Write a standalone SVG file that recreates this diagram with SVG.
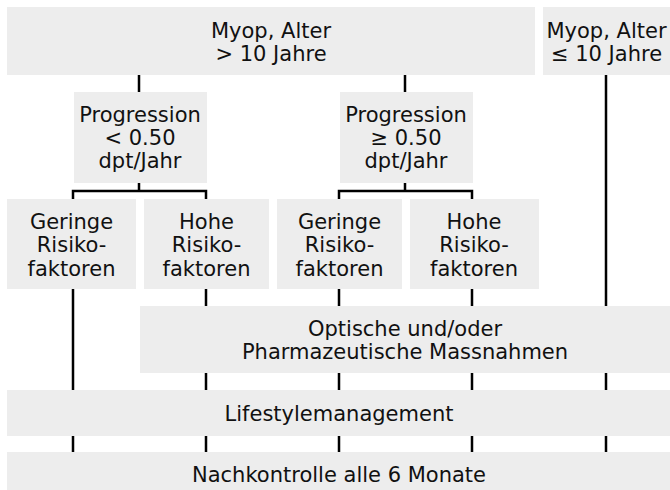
<svg xmlns="http://www.w3.org/2000/svg" width="670" height="490" viewBox="0 0 670 490">
<style>
.box{fill:#ededed}
text{font-family:"DejaVu Sans",Verdana,sans-serif;font-size:21px;fill:#111;text-anchor:middle}
.c{fill:none;stroke:#000;stroke-width:2.5}
</style>
<rect width="670" height="490" fill="#fff"/>
<g id="connectors" class="c">
<path d="M139 75V92M405 75V92M606 75V306"/>
<path d="M139 183V191M73 199V191H206V199"/>
<path d="M405 183V191M339 199V191H472V199"/>
<path d="M73 289V390M206 289V306M339 289V306M472 289V306"/>
<path d="M206 373V390M339 373V390M472 373V390M606 373V390"/>
<path d="M73 436V452M206 436V452M339 436V452M472 436V452M606 436V452"/>
</g>
<g id="n_myop_gt10"><rect class="box" x="7" y="7" width="528" height="68"/><text x="271" y="38">Myop, Alter</text><text x="271" y="61">&gt; 10 Jahre</text></g>
<g id="n_myop_le10"><rect class="box" x="543" y="7" width="127" height="68"/><text x="606.5" y="38">Myop, Alter</text><text x="606.5" y="61">≤ 10 Jahre</text></g>
<g id="n_prog_lt"><rect class="box" x="74" y="92" width="133" height="91"/><text x="140" y="122">Progression</text><text x="140" y="145">&lt; 0.50</text><text x="140" y="168">dpt/Jahr</text></g>
<g id="n_prog_ge"><rect class="box" x="340" y="92" width="133" height="91"/><text x="406" y="122">Progression</text><text x="406" y="145">≥ 0.50</text><text x="406" y="168">dpt/Jahr</text></g>
<g id="n_ger1"><rect class="box" x="7" y="199" width="129" height="90"/><text x="71.5" y="229">Geringe</text><text x="71.5" y="252">Risiko-</text><text x="71.5" y="276">faktoren</text></g>
<g id="n_hoh1"><rect class="box" x="144" y="199" width="125" height="90"/><text x="206.5" y="229">Hohe</text><text x="206.5" y="252">Risiko-</text><text x="206.5" y="276">faktoren</text></g>
<g id="n_ger2"><rect class="box" x="277" y="199" width="125" height="90"/><text x="339.5" y="229">Geringe</text><text x="339.5" y="252">Risiko-</text><text x="339.5" y="276">faktoren</text></g>
<g id="n_hoh2"><rect class="box" x="410" y="199" width="129" height="90"/><text x="474" y="229">Hohe</text><text x="474" y="252">Risiko-</text><text x="474" y="276">faktoren</text></g>
<g id="n_optisch"><rect class="box" x="140" y="306" width="530" height="67"/><text x="405" y="336">Optische und/oder</text><text x="405" y="359">Pharmazeutische Massnahmen</text></g>
<g id="n_lifestyle"><rect class="box" x="7" y="390" width="663" height="46"/><text x="339" y="421">Lifestylemanagement</text></g>
<g id="n_nachkontrolle"><rect class="box" x="7" y="452" width="663" height="38"/><text x="339" y="482">Nachkontrolle alle 6 Monate</text></g>
</svg>
